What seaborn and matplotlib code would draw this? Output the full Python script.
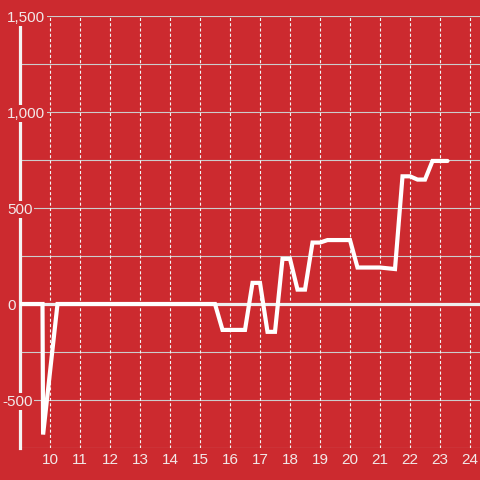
import matplotlib
matplotlib.use("Agg")
import matplotlib.pyplot as plt
import matplotlib.transforms as mtransforms
import seaborn as sns
import pandas as pd

# ---- data ----
hours = [9.0, 9.75, 9.77, 10.25, 15.5, 15.75, 16.5, 16.75, 17.0, 17.25, 17.5,
         17.75, 18.0, 18.25, 18.5, 18.75, 19.0, 19.25, 20.0, 20.25, 21.0, 21.5,
         21.75, 22.0, 22.25, 22.5, 22.75, 23.25]
values = [0, 0, -680, 0, 0, -135, -135, 110, 110, -145, -145,
          235, 235, 75, 75, 320, 320, 333, 333, 190, 190, 182,
          665, 665, 648, 648, 745, 745]
x_ticks = list(range(10, 25))
x_labels = [str(t) for t in x_ticks]
y_ticks = [1500, 1000, 500, 0, -500]
y_labels = ["1,500", "1,000", "500", "0", "-500"]
y_grid = [1500, 1250, 1000, 750, 500, 250, -250, -500, -750]

BG = "#CC2A2F"
TXT = "#F2E8E8"
FONT = "Liberation Sans"

sns.set_style("white")
plt.rcParams["font.family"] = [FONT, "DejaVu Sans"]
plt.rcParams["lines.scale_dashes"] = False

df = pd.DataFrame({"hour": hours, "value": values})

fig = plt.figure(figsize=(4.8, 4.8), dpi=100, facecolor=BG)
ax = fig.add_axes([20 / 480, 32 / 480, 460 / 480, 432 / 480])
ax.set_facecolor(BG)

ax.set_xlim(9, 9 + 460 / 30)
ax.set_ylim(-750, 1500)

# grid
for g in y_grid:
    ax.axhline(g, color="#CCCCCC", lw=0.8, zorder=1)
for t in x_ticks:
    ax.axvline(t, color="#F4F4F4", lw=0.8, linestyle=(0, (2.2, 1.6)), zorder=1)
ax.axhline(0, color="#EEEEEE", lw=2.3, zorder=2)

sns.lineplot(data=df, x="hour", y="value", ax=ax, color="white", lw=3,
             sort=False, estimator=None, zorder=4)
for ln in ax.get_lines()[-1:]:
    ln.set_solid_joinstyle("miter")

# spines
for s in ["top", "right", "bottom"]:
    ax.spines[s].set_visible(False)
ax.spines["left"].set_color("#F4F4F4")
ax.spines["left"].set_linewidth(2.3)
ax.spines["left"].set_zorder(3)

ax.set_xlabel("")
ax.set_ylabel("")
ax.set_xticks(x_ticks)
ax.set_xticklabels(x_labels)
ax.tick_params(axis="x", length=0, pad=3.6, labelsize=11, labelcolor=TXT)
ax.set_yticks([])

trans = mtransforms.blended_transform_factory(fig.transFigure, ax.transData)
for v, lab in zip(y_ticks, y_labels):
    xpx = 2 if lab.startswith("-") else 7
    ax.text(xpx / 480, v, lab, transform=trans, ha="left", va="center_baseline",
            fontsize=11, color=TXT, zorder=10, clip_on=False,
            bbox=dict(facecolor=BG, edgecolor="none", pad=1.2))

fig.savefig("out.png", dpi=100, facecolor=BG)
